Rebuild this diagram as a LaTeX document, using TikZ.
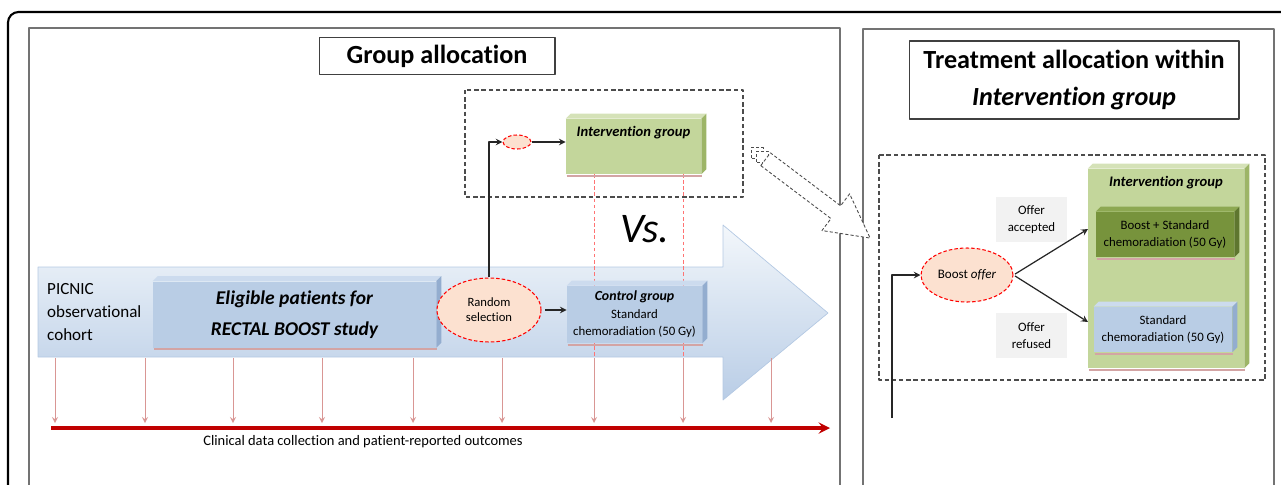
\documentclass[tikz,border=0pt]{standalone}
\usepackage{fontspec}
\setmainfont{Carlito}[Ligatures=NoCommon]
\usetikzlibrary{shapes.geometric,calc,positioning}
\definecolor{ivgreen}{HTML}{C3D69B}
\definecolor{ivgreentop}{HTML}{D5E2B8}
\definecolor{ivgreenside}{HTML}{9DB567}
\definecolor{dkgreen}{HTML}{77933C}
\definecolor{dkgreentop}{HTML}{8DA852}
\definecolor{dkgreenside}{HTML}{5E762F}
\definecolor{boxblue}{HTML}{B9CDE5}
\definecolor{boxbluetop}{HTML}{CCDBEE}
\definecolor{boxblueside}{HTML}{93ADCF}
\definecolor{ovalfill}{HTML}{FCE1D0}
\definecolor{shadowpink}{HTML}{D3A4A4}
\definecolor{redline}{HTML}{C00000}
\definecolor{tickred}{HTML}{D99694}
\definecolor{arrowedge}{HTML}{B4C9E3}
\definecolor{arrowtop}{HTML}{F3F7FB}
\definecolor{arrowbottom}{HTML}{B9CDE6}
\definecolor{graybg}{HTML}{F2F2F2}
% 3D look of a box: top strip, right strip, shadow
\newcommand\bevel[3]{%
  \fill[#2] (#1.north west) -- ++(5,-5) -- ($(#1.north east)+(5,-5)$) -- (#1.north east) -- cycle;
  \fill[#3] (#1.north east) -- ++(5,-5) -- ($(#1.south east)+(5,-5)$) -- (#1.south east) -- cycle;
  \draw[shadowpink, line width=1.1pt] ($(#1.south west)+(1,1.2)$) -- ($(#1.south east)+(1,1.2)$);}
\begin{document}
\begin{tikzpicture}[x=0.02cm, y=-0.02cm, >=stealth, line join=round,
  panel/.style={draw=black!55, line width=0.6pt},
  titlebox/.style={draw=black!75, line width=0.6pt, fill=white, align=center,
    font=\fontsize{14.9}{21.5}\selectfont\bfseries},
  dashbox/.style={draw=black!70, line width=0.6pt, dash pattern=on 2.5pt off 1.6pt},
  front/.style={inner sep=0pt, align=center, font=\fontsize{7.3}{10}\selectfont},
  oval/.style={ellipse, draw=red, fill=ovalfill, line width=0.6pt,
    dash pattern=on 2pt off 1.2pt, inner sep=1pt, align=center,
    font=\fontsize{7.2}{8.6}\selectfont},
  offerbox/.style={fill=graybg, minimum width=1.42cm, minimum height=0.9cm,
    align=center, font=\fontsize{7.3}{10}\selectfont},
  conn/.style={->, line width=0.7pt, black!85},
  tick/.style={->, draw=tickred, line width=0.5pt},
  guide/.style={draw=red!55, line width=0.5pt, dash pattern=on 2pt off 1.5pt},
  hollow/.style={draw=black!70, fill=white, line width=0.5pt, dash pattern=on 1.8pt off 1.2pt}]
\useasboundingbox (0,0) rectangle (1281,484);
\clip (0,0) rectangle (1281,484);

% frame and panels
\draw[line width=1.2pt, rounded corners=6pt] (1330,12) -- (8,12) -- (8,520);
\draw[panel] (29,28) rectangle (840,520);
\draw[panel] (863,29) rectangle (1274,520);
\node[titlebox, minimum width=4.72cm, minimum height=0.74cm] (grpttl) at (437,56) {Group allocation};
\node[titlebox, minimum width=6.6cm, minimum height=1.56cm] (trtttl) at (1074,80)
  {Treatment allocation within\\\textit{Intervention group}};

% timeline arrow
\draw[draw=arrowedge, top color=arrowtop, bottom color=arrowbottom]
  (38,267) -- (723,267) -- (723,225) -- (828,313) -- (723,400) -- (723,357) -- (38,357) -- cycle;
\draw[dashbox] (465,90) rectangle (743,197);
\draw[dashbox] (879,155) rectangle (1265,380);

\foreach \x in {55,145,233,322,413,502,594,683,771}
  \draw[tick] (\x,358) -- (\x,423);
\foreach \x in {594,683}
  \draw[guide] (\x,174) -- (\x,357);
\coordinate (tl0) at (51,428);
\coordinate (tl1) at (830,428);
\draw[->, redline, line width=1.8pt] (tl0) -- (tl1);
\node[font=\fontsize{8.25}{9}\selectfont] (collect) at (363,442) {Clinical data collection and patient-reported outcomes};

% left panel
\node[anchor=west, align=left, font=\fontsize{9.7}{13}\selectfont] (picnic) at (41,312) {PICNIC\\observational\\cohort};
\node[front, fill=boxblue, minimum width=5.66cm, minimum height=1.32cm,
  font=\fontsize{11.1}{17.5}\selectfont\bfseries\itshape] (elig) at (294.5,314.5)
  {Eligible patients for\\RECTAL BOOST study};
\bevel{elig}{boxbluetop}{boxblueside}
\node[oval, minimum width=2.08cm, minimum height=1.28cm] (rand) at (489,310) {Random\\selection};
\node[front, fill=boxblue, minimum width=2.7cm, minimum height=1.14cm] (ctrl) at (634.5,314.5)
  {\textbf{\textit{\fontsize{7.9}{10}\selectfont Control group}}\\Standard\\chemoradiation (50 Gy)};
\bevel{ctrl}{boxbluetop}{boxblueside}
\node[front, fill=ivgreen, minimum width=2.7cm, inner ysep=0.1cm, text height=0.25cm, text depth=0.65cm,
  font=\fontsize{8.3}{9}\selectfont\bfseries\itshape] (ivtop) at (633.5,146.5) {Intervention group};
\bevel{ivtop}{ivgreentop}{ivgreenside}
\node[oval, minimum width=0.56cm, minimum height=0.28cm] (pick) at (517,142) {};
\node[font=\fontsize{24}{24}\selectfont\itshape] (vs) at (645,229) {Vs.};
\draw[conn] (rand.north) |- (pick.west);
\draw[conn] (pick.east) -- (ivtop.west |- pick.east);
\draw[conn, shorten <=2pt] (rand.east) -- (rand.east -| ctrl.west);

% hand-over arrow
\begin{scope}[shift={(756,152)}, x={(0.01596cm,-0.01204cm)}, y={(0.01204cm,0.01596cm)}]
  \filldraw[hollow] (0,-8) rectangle (3,8);
  \filldraw[hollow] (6,-8) rectangle (9,8);
  \filldraw[hollow] (12,-8) -- (100,-8) -- (100,-23) -- (143,0) -- (100,23) -- (100,8) -- (12,8) -- cycle;
\end{scope}

% right panel
\node[front, fill=ivgreen, minimum width=3.12cm, inner ysep=0.1cm, text height=0.24cm, text depth=3.54cm,
  font=\fontsize{8.3}{9}\selectfont\bfseries\itshape] (ivbig) at (1166,268.5) {Intervention group};
\bevel{ivbig}{ivgreentop}{ivgreenside}
\node[front, fill=dkgreen, minimum width=2.76cm, minimum height=0.9cm] (boost) at (1165,234.5)
  {Boost + Standard\\chemoradiation (50 Gy)};
\bevel{boost}{dkgreentop}{dkgreenside}
\node[front, fill=boxblue, minimum width=2.76cm, minimum height=0.9cm] (std) at (1163,329.5)
  {Standard\\chemoradiation (50 Gy)};
\bevel{std}{boxbluetop}{boxblueside}
\node[offerbox] (acc) at (1031.5,219.5) {Offer\\accepted};
\node[offerbox] (refd) at (1031.5,335.5) {Offer\\refused};
\node[oval, minimum width=1.84cm, minimum height=1.08cm, font=\fontsize{7.4}{9}\selectfont] (offer) at (967,275) {Boost \textit{offer}};
\coordinate (feed) at (892,418);
\coordinate (accin) at (1088,229);
\coordinate (refin) at (1088,322);
\draw[conn] (feed) |- (offer.west);
\draw[conn, shorten <=1pt] (offer.east) -- (accin);
\draw[conn, shorten <=1pt] (offer.east) -- (refin);
\end{tikzpicture}
\end{document}
